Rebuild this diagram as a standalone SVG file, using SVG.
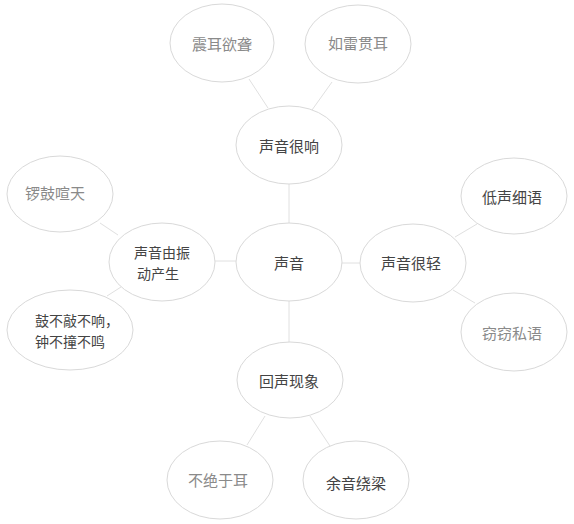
<svg xmlns="http://www.w3.org/2000/svg" width="574" height="524" viewBox="0 0 574 524">
<style>
.n ellipse{fill:#fff;stroke:#d9d9d9;stroke-width:1}
text{font-family:"Noto Sans CJK SC","Noto Sans",sans-serif;font-size:15px;dominant-baseline:central;text-anchor:middle}
.two{font-size:14px}
.d{fill:#444}
.g{fill:#8a8a8a}
#edges line{stroke:#e0e0e0;stroke-width:1}
</style>
<rect width="574" height="524" fill="#fff"/>
<g id="edges">
<line x1="249" y1="79" x2="268" y2="108"/>
<line x1="332" y1="82" x2="312" y2="110"/>
<line x1="289" y1="184" x2="289" y2="224"/>
<line x1="100" y1="223" x2="118" y2="235"/>
<line x1="107" y1="296" x2="121" y2="287"/>
<line x1="214" y1="261" x2="237" y2="261"/>
<line x1="341" y1="263" x2="361" y2="263"/>
<line x1="455" y1="237" x2="477" y2="224"/>
<line x1="453" y1="290" x2="475" y2="303"/>
<line x1="289" y1="300" x2="289" y2="342"/>
<line x1="265" y1="416" x2="247" y2="445"/>
<line x1="310" y1="416" x2="330" y2="446"/>
</g>
<g id="n-zhen" class="n"><ellipse cx="222" cy="43" rx="52" ry="39"/><text class="g" x="222" y="43">震耳欲聋</text></g>
<g id="n-ru" class="n"><ellipse cx="358" cy="44" rx="53" ry="39"/><text class="g" x="358" y="42">如雷贯耳</text></g>
<g id="n-xiang" class="n"><ellipse cx="289" cy="145" rx="53" ry="39"/><text class="d" x="289" y="145">声音很响</text></g>
<g id="n-luo" class="n"><ellipse cx="60" cy="194" rx="53" ry="38"/><text class="g" x="55" y="192">锣鼓喧天</text></g>
<g id="n-zhendong" class="n"><ellipse cx="162" cy="262" rx="53" ry="39"/><text class="d two" x="162" y="252">声音由振</text><text class="d two" x="158" y="273">动产生</text></g>
<g id="n-gu" class="n"><ellipse cx="70" cy="330" rx="63" ry="40"/><text class="d two" x="35" y="320" style="text-anchor:start">鼓不敲不响，</text><text class="d two" x="35" y="341" style="text-anchor:start">钟不撞不鸣</text></g>
<g id="n-center" class="n"><ellipse cx="289" cy="262" rx="53" ry="39"/><text class="d" x="289" y="262">声音</text></g>
<g id="n-qing" class="n"><ellipse cx="413" cy="263" rx="53" ry="39"/><text class="d" x="411" y="262">声音很轻</text></g>
<g id="n-di" class="n"><ellipse cx="514" cy="196" rx="53" ry="38"/><text class="d" x="512" y="196">低声细语</text></g>
<g id="n-qie" class="n"><ellipse cx="514" cy="332" rx="53" ry="39"/><text class="g" x="512" y="332">窃窃私语</text></g>
<g id="n-hui" class="n"><ellipse cx="290" cy="380" rx="53" ry="38"/><text class="d" x="289" y="380">回声现象</text></g>
<g id="n-bu" class="n"><ellipse cx="220" cy="480" rx="53" ry="39"/><text class="g" x="218" y="479">不绝于耳</text></g>
<g id="n-yu" class="n"><ellipse cx="356" cy="480" rx="53" ry="39"/><text class="d" x="356" y="482">余音绕梁</text></g>
</svg>
